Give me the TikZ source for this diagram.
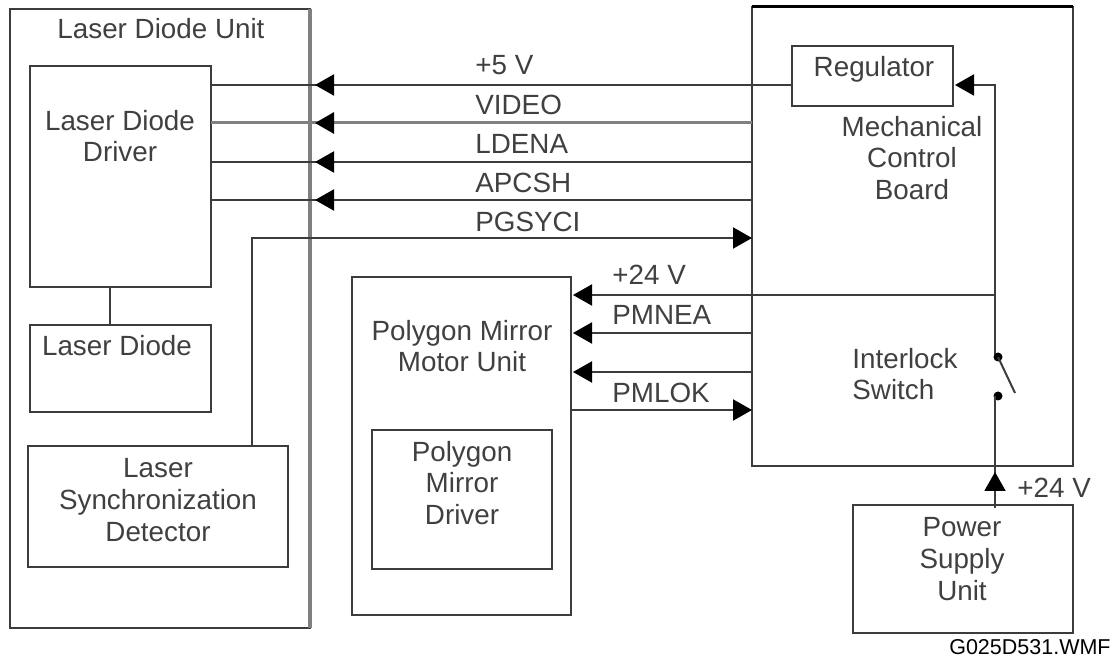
\documentclass[tikz,border=0pt]{standalone}
\usepackage{fontspec}
\setmainfont{Liberation Sans}
\usepackage{xcolor}
\usetikzlibrary{arrows.meta,positioning}
\definecolor{inkgray}{HTML}{3C3C3C}
\definecolor{txtgray}{HTML}{404040}

\begin{document}
\begin{tikzpicture}[
  x=0.5pt, y=-0.5pt,
  box/.style={rectangle, draw=inkgray, line width=1pt, anchor=north west, inner sep=0pt, outer sep=0pt},
  txt/.style={align=center, inner sep=0pt, text=txtgray, font=\fontsize{13.9}{15.8}\selectfont},
  sig/.style={txt, anchor=west},
  wire/.style={draw=inkgray, line width=1pt},
  fadewire/.style={draw=black!50, line width=1.5pt},
  arr/.style={wire, -{Triangle[length=9.5pt,width=10.5pt,color=black]}, shorten >=1pt},
  dot/.style={circle, fill=black, minimum size=4.5pt, inner sep=0pt}
]
\useasboundingbox (0,0) rectangle (1114,657);

\node[box, minimum width=150pt, minimum height=309.5pt] (ldu) at (10,9) {};
\node[box, minimum width=90.5pt, minimum height=110.5pt] (driver) at (30,66) {};
\node[box, minimum width=90.5pt, minimum height=43.5pt] (diode) at (30,325) {};
\node[box, minimum width=130pt, minimum height=60.5pt] (sync) at (28,446) {};
\node[box, minimum width=109.5pt, minimum height=169pt] (motor) at (352,277) {};
\node[box, minimum width=90pt, minimum height=69.5pt] (mdriver) at (372,430) {};
\node[box, minimum width=160.5pt, minimum height=229.5pt] (board) at (752,7) {};
\node[box, minimum width=80.5pt, minimum height=30pt] (reg) at (792,46) {};
\node[box, minimum width=110pt, minimum height=64pt] (psu) at (853,505) {};

% heavier edges
\draw[line width=1.6pt, black!50] (ldu.north east) -- (ldu.south east);
\draw[line width=1.5pt, black] (board.north west) -- (board.north east);

\node[txt] (lduT) at (161,29) {Laser Diode Unit};
\node[txt] (driverT) at (120,136) {Laser Diode\\Driver};
\node[txt] (diodeT) at (117,346) {Laser Diode};
\node[txt] (syncT) at (158,500) {Laser\\Synchronization\\Detector};
\node[txt] (motorT) at (462,346) {Polygon Mirror\\Motor Unit};
\node[txt] (mdriverT) at (462,483) {Polygon\\Mirror\\Driver};
\node[txt] (regT) at (874,69) {Regulator};
\node[txt] (boardT) at (912,158) {Mechanical\\Control\\Board};
\node[txt, align=left, anchor=west] (lockT) at (852,374) {Interlock\\Switch};
\node[txt] (psuT) at (962,559) {Power\\Supply\\Unit};
\node[txt, anchor=west] (psuV) at (1017,488) {+24 V};
\node[inner sep=0pt, text=black, font=\fontsize{10.75}{12}\selectfont, anchor=east] (fileT) at (1111,647) {G025D531.WMF};

\node[sig] (sA) at (475,65) {+5 V};
\node[sig] (sB) at (475,105) {VIDEO};
\node[sig] (sC) at (475,144) {LDENA};
\node[sig] (sD) at (475,183) {APCSH};
\node[sig] (sE) at (475,222) {PGSYCI};
\node[sig] (sF) at (612,275) {+24 V};
\node[sig] (sG) at (612,315) {PMNEA};
\node[sig] (sH) at (612,393) {PMLOK};

\coordinate (a5) at (792,85);
\coordinate (aV) at (752,123);
\coordinate (aL) at (752,162);
\coordinate (aP) at (752,200);
\coordinate (bS) at (752,238);
\coordinate (bF) at (995,295);
\coordinate (bN) at (752,333);
\coordinate (bK) at (752,372);
\coordinate (bL) at (752,410);
\coordinate (sw1) at (995,357);
\coordinate (sw2) at (995,396);
\coordinate (sw3) at (1015,393);
\coordinate (pin) at (995,508);

\draw[wire] (a5) -- (a5 -| driver.east);
\draw[fadewire] (aV) -- (aV -| driver.east);
\draw[wire] (aL) -- (aL -| driver.east);
\draw[wire] (aP) -- (aP -| driver.east);
\draw[arr, shorten >=2.5pt] (a5) -- (a5 -| ldu.east);
\draw[arr, fadewire, shorten >=2.5pt] (aV) -- (aV -| ldu.east);
\draw[arr, shorten >=2.5pt] (aL) -- (aL -| ldu.east);
\draw[arr, shorten >=2.5pt] (aP) -- (aP -| ldu.east);

\draw[arr, shorten >=0pt] (sync.north -| 252,0) |- (bS);
\draw[wire] (driver.south -| 110,0) -- (diode.north -| 110,0);

\draw[arr] (bF) -- (bF -| motor.east);
\draw[arr] (bN) -- (bN -| motor.east);
\draw[arr] (bK) -- (bK -| motor.east);
\draw[arr, shorten >=0pt] (bL -| motor.east) -- (bL);

\draw[arr] (sw1) |- (a5 -| reg.east);
\node[dot, xshift=1.5pt] (swA) at (sw1) {};
\node[dot, xshift=1.5pt] (swB) at (sw2) {};
\draw[wire] (swA.center) -- (sw3);
\draw[wire] (pin) -- (sw2);
\draw[arr, shorten >=3pt] (pin) -- (board.south -| pin);
\end{tikzpicture}
\end{document}
